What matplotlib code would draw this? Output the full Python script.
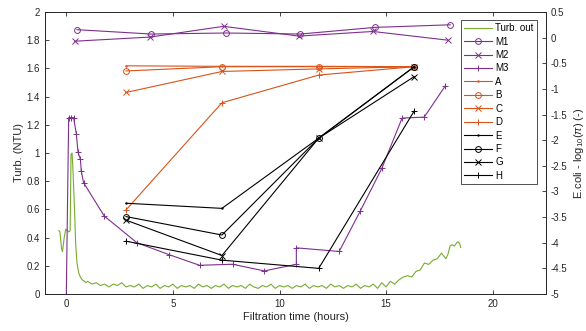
"""
Turbidity of the filtrate and E.coli log removal against filtration time.
Writes out.png.
"""

import numpy as np
import matplotlib.pyplot as plt


OUTPUT_FILE = "out.png"

GREEN = "#77AC30"
PURPLE = "#7E2F8E"
ORANGE = "#D95319"
BLACK = "#000000"

# Turbidity of the filtrate (NTU), start-up spike
turb_head_t = [-0.35, -0.30, -0.22, -0.18, -0.10, -0.03, 0.05, 0.12, 0.18,
               0.22, 0.27, 0.32, 0.38, 0.44, 0.50, 0.58, 0.66, 0.75, 0.85, 0.92]
turb_head = [0.45, 0.44, 0.32, 0.30, 0.40, 0.46, 0.45, 0.44, 0.45,
             0.99, 1.00, 0.85, 0.62, 0.35, 0.22, 0.15, 0.12, 0.10, 0.09, 0.08]

# Turbidity, steady part (every 0.2 h from 1.0 h to 15.4 h)
turb_base = [0.09, 0.07, 0.08, 0.06, 0.07, 0.05, 0.07, 0.06, 0.08, 0.05,
             0.06, 0.05, 0.07, 0.04, 0.06, 0.05, 0.07, 0.04, 0.06, 0.05,
             0.07, 0.04, 0.06, 0.05, 0.06, 0.04, 0.07, 0.05, 0.06, 0.04,
             0.06, 0.05, 0.07, 0.04, 0.06, 0.05, 0.06, 0.04, 0.07, 0.05,
             0.04, 0.06, 0.05, 0.07, 0.04, 0.06, 0.05, 0.06, 0.04, 0.06,
             0.05, 0.07, 0.04, 0.06, 0.05, 0.06, 0.04, 0.07, 0.05, 0.06,
             0.04, 0.06, 0.05, 0.07, 0.04, 0.06, 0.05, 0.07, 0.04, 0.08,
             0.05, 0.09, 0.07]

# Turbidity, breakthrough at the end of the run
turb_tail_t = [15.6, 15.8, 16.0, 16.2, 16.4, 16.6, 16.8, 17.0, 17.2, 17.4,
               17.6, 17.8, 17.9, 18.0, 18.1, 18.2, 18.35, 18.45, 18.5]
turb_tail = [0.10, 0.12, 0.13, 0.12, 0.16, 0.17, 0.22, 0.21, 0.24, 0.25,
             0.29, 0.25, 0.28, 0.34, 0.35, 0.34, 0.37, 0.36, 0.33]

# E.coli log removal, filters M1-M3
m1_t = [0.50, 3.97, 7.49, 10.98, 14.49, 18.01]
m1 = [0.155, 0.07, 0.09, 0.07, 0.20, 0.25]
m2_t = [0.39, 3.91, 7.38, 10.90, 14.38, 17.90]
m2 = [-0.07, 0.01, 0.22, 0.03, 0.12, -0.05]
m3_t = [0.0, 0.11, 0.23, 0.34, 0.47, 0.55, 0.66, 0.70, 0.81, 1.78, 3.31,
        4.80, 6.25, 7.80, 9.29, 10.79, 10.79, 12.80, 13.79, 14.80, 15.75,
        16.79, 17.78]
m3 = [-5.0, -1.56, -1.56, -1.56, -1.88, -2.24, -2.37, -2.60, -2.83, -3.48,
      -4.00, -4.23, -4.44, -4.42, -4.55, -4.42, -4.10, -4.17, -3.38, -2.55,
      -1.57, -1.55, -0.94]

# E.coli log removal, filters A-H (same sampling times)
sample_t = [2.80, 7.30, 11.84, 16.32]
series_a = [-0.55, -0.56, -0.56, -0.567]
series_b = [-0.65, -0.567, -0.567, -0.567]
series_c = [-1.07, -0.66, -0.61, -0.567]
series_d = [-3.36, -1.27, -0.73, -0.567]
series_e = [-3.23, -3.33, -1.96, -0.567]
series_f = [-3.49, -3.85, -1.96, -0.567]
series_g = [-3.56, -4.25, -1.96, -0.76]
series_h = [-3.97, -4.34, -4.50, -1.43]


def main() -> None:
    plt.rcParams["font.family"] = ["Liberation Sans", "DejaVu Sans"]
    plt.rcParams["mathtext.fontset"] = "custom"
    plt.rcParams["mathtext.rm"] = "Liberation Sans"
    plt.rcParams["mathtext.it"] = "Liberation Sans:italic"

    fig = plt.figure(figsize=(5.86, 3.31), dpi=100)
    ax = fig.add_axes([0.0768, 0.1118, 0.8549, 0.8520])
    ax2 = ax.twinx()

    axis_color = "#262626"
    tick_kw = dict(direction="in", length=3, width=0.6, labelsize=7,
                   colors=axis_color)

    # Left axis: turbidity
    base_t = np.linspace(1.0, 15.4, len(turb_base))
    turb_t = list(turb_head_t) + list(base_t) + list(turb_tail_t)
    turb = list(turb_head) + list(turb_base) + list(turb_tail)
    h_turb, = ax.plot(turb_t, turb, color=GREEN, lw=0.8, label="Turb. out")

    ax.set_xlim(-1, 22.5)
    ax.set_ylim(0, 2)
    ax.set_xticks([0, 5, 10, 15, 20])
    ax.set_yticks(np.round(np.arange(0, 2.01, 0.2), 1))
    ax.set_yticklabels(["0", "0.2", "0.4", "0.6", "0.8", "1", "1.2", "1.4",
                        "1.6", "1.8", "2"])
    ax.tick_params(axis="both", top=True, **tick_kw)
    ax.set_xlabel("Filtration time (hours)", fontsize=8, color=axis_color,
                  labelpad=2)
    ax.set_ylabel("Turb. (NTU)", fontsize=8, color=axis_color, labelpad=2)

    # Right axis: E.coli log removal
    mk = dict(markersize=4.2, markeredgewidth=0.7, fillstyle="none", lw=0.8)
    handles = [h_turb]
    handles += ax2.plot(m1_t, m1, color=PURPLE, marker="o", label="M1", **mk)
    handles += ax2.plot(m2_t, m2, color=PURPLE, marker="x", label="M2", **mk)
    handles += ax2.plot(m3_t, m3, color=PURPLE, marker="+", label="M3", **mk)
    rest = [
        (series_a, ORANGE, ".", "A"),
        (series_b, ORANGE, "o", "B"),
        (series_c, ORANGE, "x", "C"),
        (series_d, ORANGE, "+", "D"),
        (series_e, BLACK, ".", "E"),
        (series_f, BLACK, "o", "F"),
        (series_g, BLACK, "x", "G"),
        (series_h, BLACK, "+", "H"),
    ]
    for values, color, marker, name in rest:
        style = dict(mk)
        if marker == ".":
            style["markersize"] = 2
        handles += ax2.plot(sample_t, values, color=color, marker=marker,
                            label=name, **style)

    ax2.set_ylim(-5, 0.5)
    ax2.set_yticks(np.arange(-5, 0.51, 0.5))
    ax2.set_yticklabels(["-5", "-4.5", "-4", "-3.5", "-3", "-2.5", "-2",
                         "-1.5", "-1", "-0.5", "0", "0.5"])
    ax2.tick_params(axis="y", **tick_kw)
    ax2.set_ylabel(r"E.coli - log$_{10}$($\pi$) (-)", fontsize=8,
                   color=axis_color, labelpad=3)

    for a in (ax, ax2):
        for spine in a.spines.values():
            spine.set_color(axis_color)
            spine.set_linewidth(0.6)

    leg = ax2.legend(handles=handles, loc="upper right",
                     bbox_to_anchor=(0.982, 0.972), borderaxespad=0,
                     fontsize=7, frameon=True, fancybox=False,
                     labelspacing=0.35, handlelength=2.9, handletextpad=0.3,
                     borderpad=0.35)
    leg.get_frame().set_edgecolor(BLACK)
    leg.get_frame().set_linewidth(0.6)

    fig.savefig(OUTPUT_FILE, dpi=100)
    plt.close(fig)


if __name__ == "__main__":
    main()
